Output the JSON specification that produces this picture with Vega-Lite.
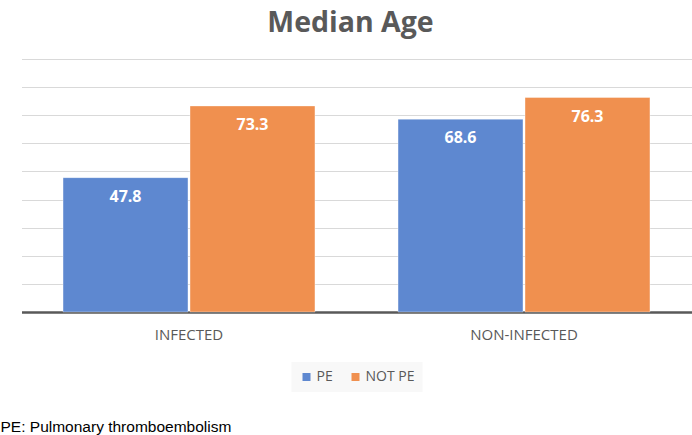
{
  "$schema": "https://vega.github.io/schema/vega-lite/v6.json",
  "width": 670,
  "height": 253,
  "autosize": {"type": "none"},
  "padding": {"left": 21.5, "top": 59, "right": 0.5, "bottom": 123},
  "background": "white",
  "title": {
    "text": "Median Age",
    "font": "Open Sans",
    "fontSize": 28.5,
    "fontWeight": "bold",
    "color": "#595959",
    "anchor": "middle",
    "dx": -6,
    "offset": 22
  },
  "config": {"view": {"stroke": null}},
  "data": {
    "values": [
      {"group": "INFECTED", "type": "PE", "age": 47.8},
      {"group": "INFECTED", "type": "NOT PE", "age": 73.3},
      {"group": "NON-INFECTED", "type": "PE", "age": 68.6},
      {"group": "NON-INFECTED", "type": "NOT PE", "age": 76.3}
    ]
  },
  "encoding": {
    "x": {
      "field": "group",
      "type": "nominal",
      "sort": ["INFECTED", "NON-INFECTED"],
      "scale": {"paddingInner": 0.248, "paddingOuter": 0.124},
      "axis": {
        "labelAngle": 0,
        "ticks": false,
        "domainColor": "#595959",
        "domainWidth": 2.5,
        "labelFont": "Open Sans",
        "labelFontSize": 15,
        "labelColor": "#595959",
        "labelPadding": 15,
        "title": "PE: Pulmonary thromboembolism",
        "titleFont": "Liberation Sans",
        "titleFontSize": 15.5,
        "titleFontWeight": "normal",
        "titleColor": "#000000",
        "titleAnchor": "start",
        "titleAlign": "left",
        "titleBaseline": "alphabetic",
        "titleX": -21.5,
        "titleY": 119
      }
    },
    "xOffset": {
      "field": "type",
      "type": "nominal",
      "sort": ["PE", "NOT PE"],
      "scale": {"paddingInner": 0.016}
    },
    "y": {
      "field": "age",
      "type": "quantitative",
      "scale": {"domain": [0, 90]},
      "axis": {
        "values": [10, 20, 30, 40, 50, 60, 70, 80, 90],
        "grid": true,
        "gridColor": "#d9d9d9",
        "gridWidth": 1,
        "labels": false,
        "ticks": false,
        "domain": false,
        "title": null
      }
    }
  },
  "layer": [
    {
      "mark": {"type": "bar", "stroke": "#ffffff", "strokeWidth": 0.6, "strokeOpacity": 0.6},
      "encoding": {
        "color": {
          "field": "type",
          "type": "nominal",
          "scale": {"domain": ["PE", "NOT PE"], "range": ["#5E88D0", "#F0904F"]},
          "legend": {
            "orient": "none",
            "legendX": 270,
            "legendY": 303,
            "direction": "horizontal",
            "title": null,
            "symbolType": "square",
            "symbolSize": 64,
            "symbolStrokeWidth": 0,
            "labelFont": "Open Sans",
            "labelFontSize": 14,
            "labelColor": "#595959",
            "labelOffset": 3,
            "columnPadding": 15,
            "fillColor": "#f8f8f8",
            "padding": 8
          }
        }
      }
    },
    {
      "mark": {
        "type": "text",
        "color": "white",
        "font": "Open Sans",
        "fontSize": 16,
        "fontWeight": "bold",
        "baseline": "top",
        "dy": 11
      },
      "encoding": {
        "text": {"field": "age", "type": "quantitative", "format": ".1f"}
      }
    }
  ]
}
